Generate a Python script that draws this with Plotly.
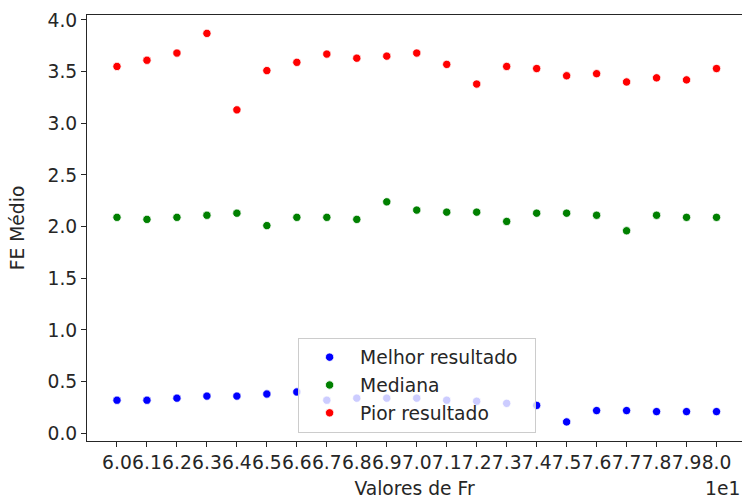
import plotly.graph_objects as go

# Fr values (scaled by 1e1 on the axis) and tick labels
fr_values = [60, 61, 62, 63, 64, 65, 66, 67, 68, 69, 70,
             71, 72, 73, 74, 75, 76, 77, 78, 79, 80]
fr_labels = ["6.0", "6.1", "6.2", "6.3", "6.4", "6.5", "6.6", "6.7", "6.8", "6.9", "7.0",
             "7.1", "7.2", "7.3", "7.4", "7.5", "7.6", "7.7", "7.8", "7.9", "8.0"]

# Mean FE per Fr value
melhor = [0.32, 0.32, 0.34, 0.36, 0.36, 0.38, 0.40, 0.32, 0.34, 0.34, 0.34,
          0.32, 0.31, 0.29, 0.27, 0.11, 0.22, 0.22, 0.21, 0.21, 0.21]
mediana = [2.09, 2.07, 2.09, 2.11, 2.13, 2.01, 2.09, 2.09, 2.07, 2.24, 2.16,
           2.14, 2.14, 2.05, 2.13, 2.13, 2.11, 1.96, 2.11, 2.09, 2.09]
pior = [3.55, 3.61, 3.68, 3.87, 3.13, 3.51, 3.59, 3.67, 3.63, 3.65, 3.68,
        3.57, 3.38, 3.55, 3.53, 3.46, 3.48, 3.40, 3.44, 3.42, 3.53]

series = [
    ("Melhor resultado\u00a0\u00a0", melhor, "#0000ff"),
    ("Mediana", mediana, "#008000"),
    ("Pior resultado", pior, "#ff0000"),
]

FONT = "DejaVu Sans"
FS = 18.7
INK = "#262626"

fig = go.Figure()
for name, vals, color in series:
    fig.add_trace(go.Scatter(
        x=fr_values, y=vals, mode="markers", name=name, legendgroup=name,
        marker=dict(color=color, size=8.3, line=dict(color="white", width=0.8)),
    ))

fig.update_layout(
    width=742, height=499,
    margin=dict(l=87.3, r=0, t=15, b=58.3),
    paper_bgcolor="white", plot_bgcolor="white",
    font=dict(family=FONT, size=FS, color=INK),
    showlegend=True,
    legend=dict(
        x=0.3223, y=0.2429, xanchor="left", yanchor="top",
        bgcolor="rgba(255,255,255,0.8)", bordercolor="#cccccc", borderwidth=1,
        font=dict(family=FONT, size=FS, color=INK),
        tracegroupgap=0.5, itemwidth=51,
    ),
    xaxis=dict(
        range=[59, 80.85], showgrid=False, zeroline=False,
        tickvals=fr_values, ticktext=fr_labels, tickangle=0,
        ticks="outside", ticklen=5, tickwidth=1, tickcolor=INK,
        showline=True, linecolor=INK, linewidth=1, mirror=True,
        title=dict(text="Valores de Fr", standoff=10,
                   font=dict(family=FONT, size=FS, color=INK)),
        tickfont=dict(family=FONT, size=FS, color=INK),
    ),
    yaxis=dict(
        range=[-0.0746, 4.048], showgrid=False, zeroline=False,
        tickvals=[0, 0.5, 1, 1.5, 2, 2.5, 3, 3.5, 4],
        ticktext=["0.0", "0.5", "1.0", "1.5", "2.0", "2.5", "3.0", "3.5", "4.0"],
        ticks="outside", ticklen=5, tickwidth=1, tickcolor=INK,
        showline=True, linecolor=INK, linewidth=1, mirror=False,
        title=dict(text="FE Médio", standoff=17,
                   font=dict(family=FONT, size=FS, color=INK)),
        tickfont=dict(family=FONT, size=FS, color=INK),
    ),
    annotations=[dict(
        text="1e1", xref="paper", yref="paper", x=1, y=0,
        xanchor="right", yanchor="middle", yshift=-47, showarrow=False,
        font=dict(family=FONT, size=FS, color=INK),
    )],
)

fig.write_html("out.html")
